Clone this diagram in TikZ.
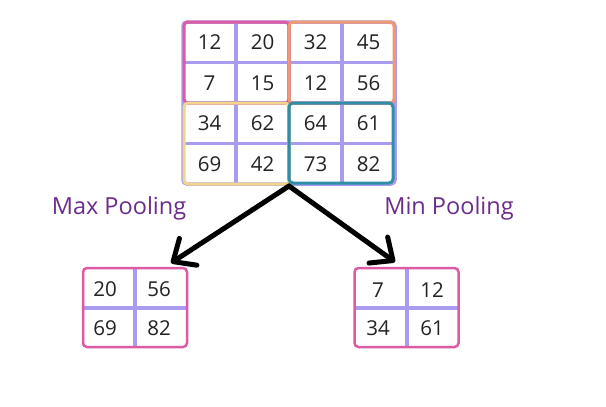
\documentclass[tikz,border=0pt]{standalone}
\usepackage{fontspec}
\setmainfont{Open Sans}
\usetikzlibrary{arrows.meta}
\definecolor{lav}{HTML}{A99CEF}
\definecolor{pinkb}{HTML}{DD5AA5}
\definecolor{orangeb}{HTML}{F09A72}
\definecolor{yellowb}{HTML}{F2D58C}
\definecolor{tealb}{HTML}{2E8FA6}
\definecolor{purp}{HTML}{6B2D8C}
\definecolor{numc}{HTML}{222222}
\tikzset{
  num/.style={text=numc, font=\fontsize{20.5}{24}\selectfont, inner sep=0pt, anchor=center},
  gridline/.style={draw=lav, line width=3.5pt},
  quad/.style={line width=3pt, rounded corners=4pt},
  poolbox/.style={minimum width=104pt, minimum height=79pt, inner sep=0pt, outer sep=0pt},
  label/.style={text=purp, font=\fontsize{23.5}{28}\selectfont, inner sep=0pt},
  bigarrow/.style={line width=5pt, line cap=round, -{Straight Barb[length=18pt,width=32pt,round]}}
}
\begin{document}
\begin{tikzpicture}[x=1pt,y=-1pt]
\useasboundingbox[fill=white] (0,0) rectangle (606,407);
% top grid lines
\draw[gridline, rounded corners=4pt] (183,22) rectangle (395,184);
\foreach \x in {236,289,342} \draw[gridline] (\x,22) -- (\x,184);
\foreach \y in {62.5,103,143.5} \draw[gridline] (183,\y) -- (395,\y);
% quadrants
\draw[quad, draw=pinkb] (184,22) rectangle (289,103);
\draw[quad, draw=orangeb] (289,22) rectangle (394,103);
\draw[quad, draw=yellowb] (184,103) rectangle (289,184);
\draw[quad, draw=tealb] (289,103) rectangle (393,183);
% numbers
\node[num] (c11) at (209.5,42.5) {12};
\node[num] (c12) at (262.5,42.5) {20};
\node[num] (c13) at (315.5,42.5) {32};
\node[num] (c14) at (368.5,42.5) {45};
\node[num] (c21) at (209.5,83) {7};
\node[num] (c22) at (262.5,83) {15};
\node[num] (c23) at (315.5,83) {12};
\node[num] (c24) at (368.5,83) {56};
\node[num] (c31) at (209.5,123.5) {34};
\node[num] (c32) at (262.5,123.5) {62};
\node[num] (c33) at (315.5,123.5) {64};
\node[num] (c34) at (368.5,123.5) {61};
\node[num] (c41) at (209.5,164) {69};
\node[num] (c42) at (262.5,164) {42};
\node[num] (c43) at (315.5,164) {73};
\node[num] (c44) at (368.5,164) {82};
% labels
\node[label] (maxl) at (119,208) {Max Pooling};
\node[label] (minl) at (449,208) {Min Pooling};
% bottom boxes
\node[poolbox] (boxL) at (135,307.5) {};
\draw[draw=lav, line width=4pt] (boxL.north) -- (boxL.south);
\draw[draw=lav, line width=4pt] (boxL.west) -- (boxL.east);
\draw[draw=pinkb, line width=2.5pt, rounded corners=4pt] (boxL.north west) rectangle (boxL.south east);
\node[num] (l11) at (105,289) {20};
\node[num] (l12) at (159,289) {56};
\node[num] (l21) at (105,328) {69};
\node[num] (l22) at (159,328) {82};
\node[poolbox] (boxR) at (406.5,307.5) {};
\draw[draw=lav, line width=4pt] (boxR.north) -- (boxR.south);
\draw[draw=lav, line width=4pt] (boxR.west) -- (boxR.east);
\draw[draw=pinkb, line width=2.5pt, rounded corners=4pt] (boxR.north west) rectangle (boxR.south east);
\node[num] (r11) at (378,290) {7};
\node[num] (r12) at (432,290) {12};
\node[num] (r21) at (378,328) {34};
\node[num] (r22) at (432,328) {61};
% arrows
\coordinate (j) at (289,186);
\coordinate (tipL) at (171,263);
\coordinate (tipR) at (395,262);
\draw[bigarrow] (j) -- (tipL);
\draw[bigarrow] (j) -- (tipR);
\end{tikzpicture}
\end{document}
